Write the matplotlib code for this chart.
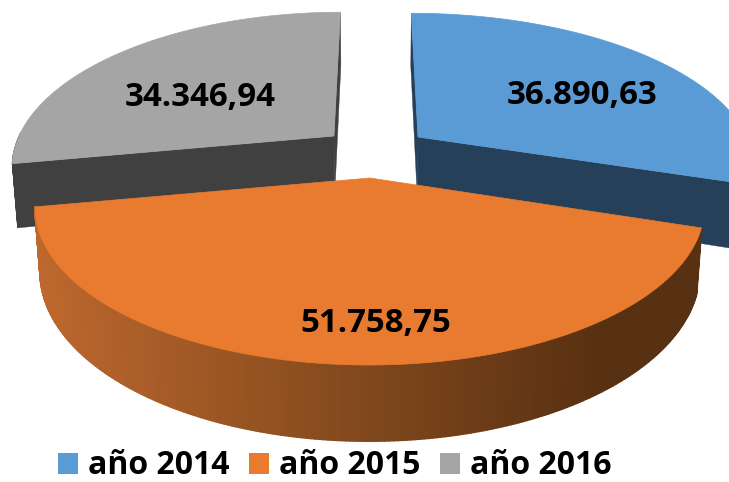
import numpy as np
import matplotlib
matplotlib.use("Agg")
import matplotlib.pyplot as plt
from matplotlib.collections import PolyCollection
from matplotlib.patches import Patch, Polygon

categories = ["año 2014", "año 2015", "año 2016"]
values = [36890.63, 51758.75, 34346.94]
top_colors = ["#5B9BD5", "#E97B30", "#A5A5A5"]
side_colors = ["#254058", None, "#404040"]

plt.rcParams["font.family"] = ["Open Sans", "DejaVu Sans"]

# projection of the exploded 3D pie (pixel space)
X0, K, RY, DEPTH, SHRINK = 375, 0.184, 152.6, 62, 0.985
apex = [(418, 137), (370, 178), (334, 136)]
radius_x = [329, 329, 315]
radius_y = [RY * 0.96, RY, RY * 0.96]
label_pos = [(582, 95), (376, 323), (200, 98)]


def project(theta, r, ax_, ay_, rx, ry, bottom=False):
    c = np.cos(theta) * r
    s = 1 / (1 + K * c)
    x = X0 + (ax_ - X0 + rx * r * np.sin(theta)) * s
    y = ay_ - ry * c * s
    if bottom:
        x = X0 + (x - X0) * SHRINK
        y = y + DEPTH * s
    return x, y


fig = plt.figure(figsize=(7.29, 4.82), dpi=100)
ax = fig.add_axes([0, 0, 1, 1])
ax.set_xlim(0, 729)
ax.set_ylim(482, 0)
ax.axis("off")

fractions = np.array(values) / sum(values)
edges = np.concatenate([[0], np.cumsum(fractions)]) * 2 * np.pi
left_shade = np.array([190, 104, 46]) / 255
mid_shade = np.array([128, 72, 28]) / 255
right_shade = np.array([88, 48, 18]) / 255

for i in [2, 0, 1]:
    ax_, ay_ = apex[i]
    rx, ry = radius_x[i], radius_y[i]
    t = np.linspace(edges[i], edges[i + 1], 240)
    xt, yt = project(t, 1, ax_, ay_, rx, ry)
    xb, yb = project(t, 1, ax_, ay_, rx, ry, bottom=True)
    xa, ya = project(0.0, 0, ax_, ay_, rx, ry)
    xab, yab = project(0.0, 0, ax_, ay_, rx, ry, bottom=True)

    # only the part of the rim that faces the viewer is visible
    quads = [[(xt[j], yt[j]), (xt[j + 1], yt[j + 1]), (xb[j + 1], yb[j + 1]), (xb[j], yb[j])]
             for j in range(len(t) - 1) if np.cos(t[j]) < 0.02]
    if side_colors[i] is None:
        u = (xt[:-1] - xt.min()) / (xt.max() - xt.min())
        colors = [
            left_shade + (mid_shade - left_shade) * (v / 0.5) if v < 0.5
            else mid_shade + (right_shade - mid_shade) * ((v - 0.5) / 0.35) if v < 0.85
            else right_shade
            for v in u
        ]
        lw = 1.4
    else:
        colors = [side_colors[i]] * len(quads)
        lw = 0.4
        # radial wall seen from above, and the wall below the chord
        for k in (0, -1):
            ax.add_patch(Polygon([(xt[k], yt[k]), (xa, ya), (xab, yab), (xb[k], yb[k])],
                                 closed=True, fc=side_colors[i], ec=side_colors[i], lw=0.3))
    ax.add_collection(PolyCollection(quads, facecolors=colors, edgecolors=colors, linewidths=lw))

    ax.add_patch(Polygon(np.column_stack([np.r_[xa, xt], np.r_[ya, yt]]), closed=True,
                         fc=top_colors[i], ec=top_colors[i], lw=0.5))
    label = f"{values[i]:,.2f}".replace(",", "#").replace(".", ",").replace("#", ".")
    ax.text(*label_pos[i], label, ha="center", va="center", fontsize=23.8,
            fontweight="bold", color="black")

handles = [Patch(fc=c, ec="none", label=n) for c, n in zip(top_colors, categories)]
leg = ax.legend(handles=handles, ncol=3, loc="center", bbox_to_anchor=(335 / 729, 1 - 466 / 482),
                frameon=False, fontsize=23, borderpad=0, borderaxespad=0,
                handlelength=0.63, handleheight=0.63, handletextpad=0.32, columnspacing=0.6)
for txt in leg.get_texts():
    txt.set_fontweight("bold")

fig.savefig("out.png", dpi=100)
